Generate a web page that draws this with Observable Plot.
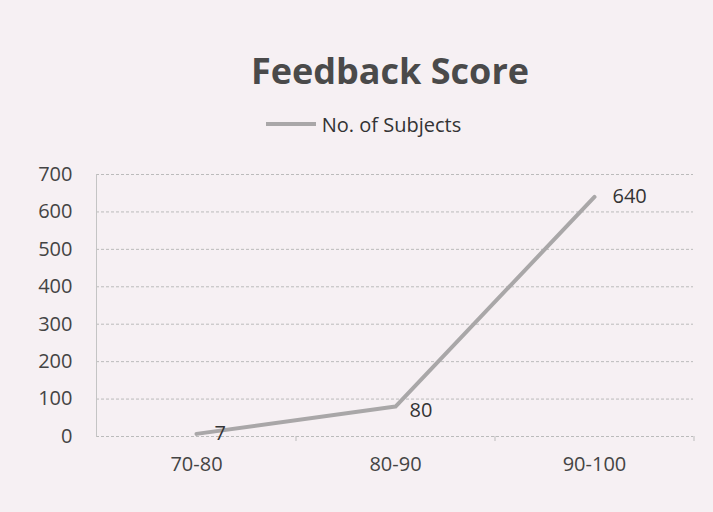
<!DOCTYPE html>
<html>
<head>
<meta charset="utf-8">
<script src="https://cdn.jsdelivr.net/npm/d3@7"></script>
<script src="https://cdn.jsdelivr.net/npm/@observablehq/plot@0.6"></script>
<style>
  html, body { margin: 0; padding: 0; }
  body { width: 713px; height: 512px; background: #f6f0f3; font-family: "Open Sans", sans-serif; overflow: hidden; }
  #title { height: 100px; box-sizing: border-box; padding-top: 53px; text-align: center; font-size: 36px; font-weight: 700; color: #4a4a4a; line-height: 1; padding-left: 67px; }
  #legend { height: 50px; display: flex; justify-content: center; align-items: center; font-size: 20px; color: #333; padding-left: 14px; box-sizing: border-box; padding-bottom: 2px; }
  #legend svg { margin-right: 6px; }
</style>
</head>
<body>
<div id="title">Feedback Score</div>
<div id="legend"></div>
<div id="chart"></div>
<script>
const categories = ["70-80", "80-90", "90-100"];
const subjects = [7, 80, 640];
const yTicks = [0, 100, 200, 300, 400, 500, 600, 700];
const seriesName = "No. of Subjects";

const data = categories.map((c, i) => ({category: c, value: subjects[i]}));

const lineColor = "#a9a7a8";

document.getElementById("legend").innerHTML =
  `<svg width="50" height="8"><line x1="0" y1="4" x2="50" y2="4" stroke="${lineColor}" stroke-width="4"/></svg><span>${seriesName}</span>`;

const chart = Plot.plot({
  width: 713,
  height: 362,
  marginTop: 24,
  marginBottom: 76,
  marginLeft: 96,
  marginRight: 20,
  style: {background: "transparent", fontFamily: "Open Sans, sans-serif", color: "#444"},
  x: {type: "point", domain: categories, padding: 0.5, label: null},
  y: {domain: [0, 700], ticks: yTicks, label: null},
  marks: [
    Plot.ruleY(yTicks, {stroke: "#bbb", strokeWidth: 1, strokeDasharray: "3,2"}),
    Plot.frame({anchor: "left", stroke: "#c4c4c4"}),
    Plot.ruleX(categories, {x: d => d, y1: 0, y2: 0, dx: 99.5, insetBottom: -5, stroke: "#bbb"}),
    Plot.axisY({ticks: yTicks, tickSize: 0, tickPadding: 24, fontSize: 20, fill: "#444"}),
    Plot.axisX({tickSize: 0, tickPadding: 20, fontSize: 20, fill: "#444"}),
    Plot.line(data, {x: "category", y: "value", stroke: lineColor, strokeWidth: 4}),
    Plot.text(data, {filter: d => d.value !== 80, x: "category", y: "value", text: d => String(d.value), textAnchor: "start", dx: 18, dy: 0, fontSize: 20, fill: "#333"}),
    Plot.text(data, {filter: d => d.value === 80, x: "category", y: "value", text: d => String(d.value), textAnchor: "start", dx: 14, dy: 4, fontSize: 20, fill: "#333"})
  ]
});
document.getElementById("chart").appendChild(chart);
</script>
</body>
</html>
